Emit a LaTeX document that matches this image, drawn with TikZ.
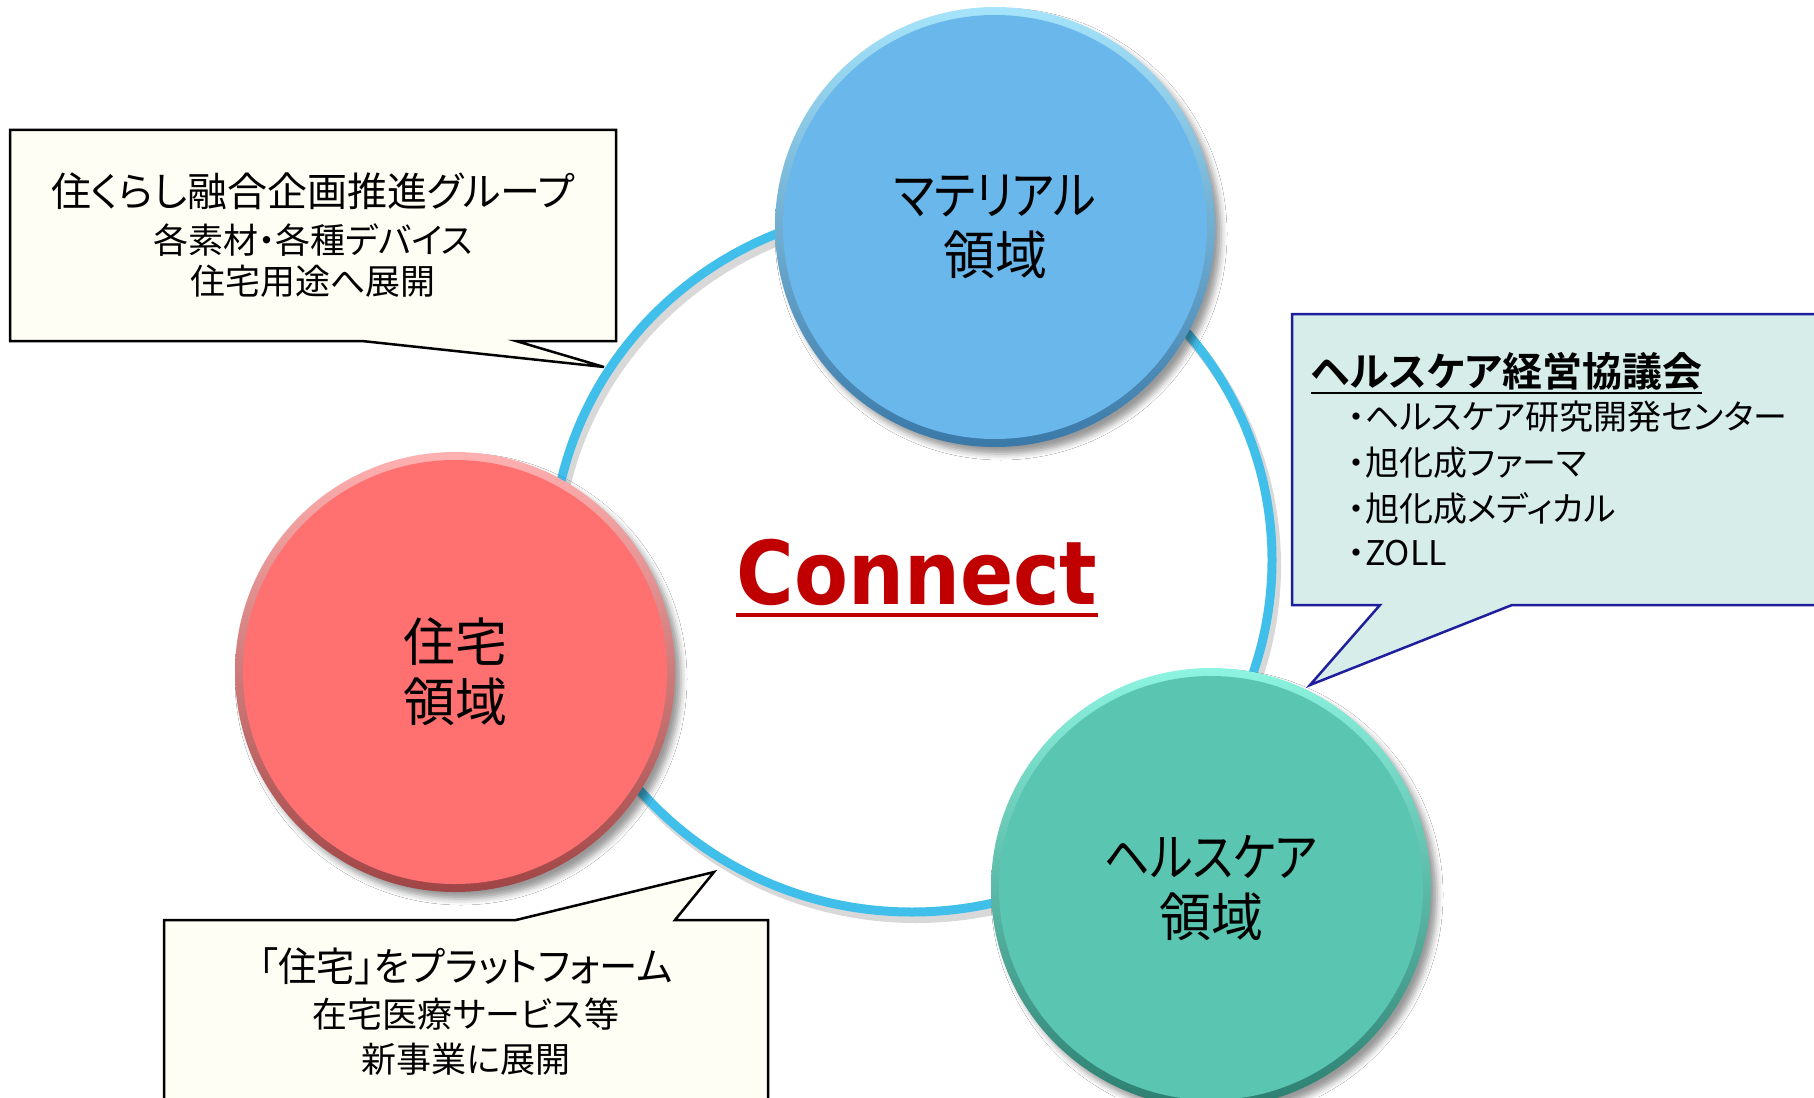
\documentclass[tikz,border=0pt]{standalone}
\usepackage{fontspec}
\usepackage{graphicx}
\usetikzlibrary{shapes.geometric,shadows.blur}
\newfontfamily\jp[RawFeature=+palt,BoldFont={Noto Sans CJK JP Bold}]{Noto Sans CJK JP}
\newfontfamily\connfont{DejaVu Sans}
\definecolor{ringc}{HTML}{41BFEB}
\definecolor{bluec}{HTML}{69B7EB}
\definecolor{bluehi}{HTML}{A6E4FB}
\definecolor{bluedk}{HTML}{3A78A8}
\definecolor{redc}{HTML}{FF7171}
\definecolor{redhi}{HTML}{FFB0B0}
\definecolor{reddk}{HTML}{A04545}
\definecolor{grnc}{HTML}{5AC5B0}
\definecolor{grnhi}{HTML}{8CF4E0}
\definecolor{grndk}{HTML}{2C7F70}
\definecolor{cream}{HTML}{FEFEF5}
\definecolor{tealbg}{HTML}{D6EDE9}
\definecolor{navy}{HTML}{1F1F9E}
\definecolor{connred}{HTML}{C00000}
\newcommand{\narrowkana}[1]{\scalebox{0.87}[1]{#1}}
\begin{document}
\begin{tikzpicture}[x=1pt,y=-1pt,
  domain/.style n args={3}{circle, minimum size=440pt, inner sep=0pt,
    blur shadow={shadow xshift=6pt, shadow yshift=-7pt, shadow blur radius=6pt, shadow opacity=40},
    top color=#2, middle color=#1, bottom color=#3,
    path picture={\fill[#1] (path picture bounding box.center) circle (212pt);},
    align=center, text=black, font=\jp\fontsize{52}{60}\selectfont},
  bigline/.style={inner sep=0pt, font=\jp\fontsize{40}{48}\selectfont},
  smallline/.style={inner sep=0pt, font=\jp\fontsize{35}{42}\selectfont},
  itemline/.style={inner sep=0pt, anchor=west, font=\jp\fontsize{34}{40}\selectfont},
  noteshape/.style={draw=black, line width=2.5pt, fill=cream, line join=miter},
  hcshape/.style={draw=navy, line width=2.5pt, fill=tealbg, line join=miter}]
\useasboundingbox (0,0) rectangle (1814,1097);
\clip (0,0) rectangle (1814,1097);
\fill[white] (0,0) rectangle (1814,1097);

% ring with soft shadow
\draw[black!30, opacity=0.5, line width=10pt] (916,566) ellipse [x radius=360pt, y radius=352pt];
\node[ellipse, draw=ringc, line width=9pt, minimum width=720pt, minimum height=704pt, inner sep=0pt] (ring) at (912,560) {};

% domain circles
\node[domain={bluec}{bluehi}{bluedk}] (mat) at (995,227) {\narrowkana{マテリアル}\\領域};
\node[domain={redc}{redhi}{reddk}] (hou) at (455,672) {住宅\\領域};
\node[domain={grnc}{grnhi}{grndk}] (hea) at (1211,888) {\narrowkana{ヘルスケア}\\領域};

% top-left note
\draw[noteshape] (10,130) -- (616,130) -- (616,341) -- (516,341) -- (604,367) -- (362,341) -- (10,341) -- cycle;
\node[bigline] (tl1) at (313,191) {住くらし融合企画推進グループ};
\node[smallline] (tl2) at (313,240) {各素材・各種デバイス};
\node[smallline] (tl3) at (313,281) {住宅用途へ展開};

% bottom-left note
\draw[noteshape] (164,920) -- (516,920) -- (714,872) -- (675,920) -- (768,920) -- (768,1110) -- (164,1110) -- cycle;
\node[bigline] (bl1) at (466,966) {\scalebox{0.96}[1]{「住宅」をプラットフォーム}};
\node[smallline] (bl2) at (466,1014) {在宅医療サービス等};
\node[smallline] (bl3) at (466,1059) {新事業に展開};

% right note
\draw[hcshape] (1292,314) -- (1830,314) -- (1830,605) -- (1512,605) -- (1310,685) -- (1380,605) -- (1292,605) -- cycle;
\node[inner sep=0pt, anchor=west, font=\jp\bfseries\fontsize{40}{48}\selectfont] (hct) at (1311,371) {ヘルスケア経営協議会};
\draw[line width=2.5pt] ([yshift=-3pt]hct.south west) -- ([yshift=-3pt]hct.south east);
\node[itemline] (hc1) at (1348,417) {・ヘルスケア研究開発センター};
\node[itemline] (hc2) at (1348,463) {・旭化成ファーマ};
\node[itemline] (hc3) at (1348,508) {・旭化成メディカル};
\node[itemline] (hc4) at (1348,553) {・ZOLL};

% Connect
\node[inner sep=0pt, anchor=base, text=connred, font=\connfont\bfseries\fontsize{88}{100}\selectfont] (conn) at (917,604) {\scalebox{0.893}[1]{Connect}};
\draw[connred, line width=4pt] ([yshift=-11pt]conn.base west) -- ([yshift=-11pt]conn.base east);
\end{tikzpicture}
\end{document}
